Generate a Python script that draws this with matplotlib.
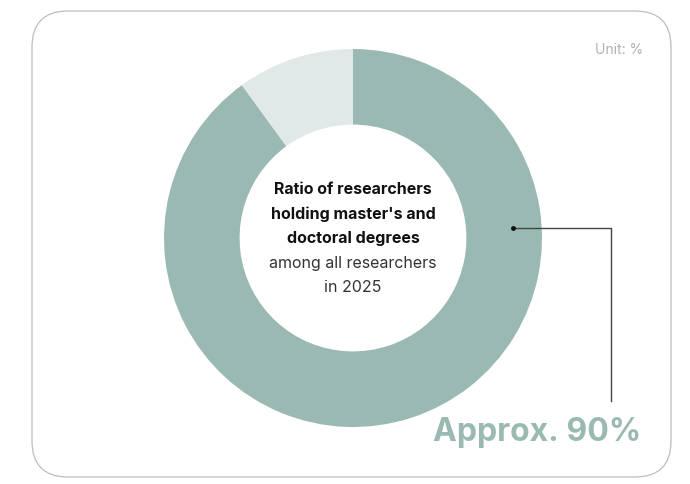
import matplotlib.pyplot as plt
from matplotlib.patches import FancyBboxPatch

# data
shares = [90, 10]
share_labels = ["Master's and doctoral degrees", "Others"]
colors = ['#9bb9b3', '#e0e9e8']
title_lines = ["Ratio of researchers", "holding master's and", "doctoral degrees"]
sub_lines = ["among all researchers", "in 2025"]
callout = "Approx. 90%"
unit = "Unit: %"

W, H = 690, 485
fig = plt.figure(figsize=(W / 100, H / 100), dpi=100)
ax = fig.add_axes([0, 0, 1, 1])

# donut, center/radius in pixel coords (y up)
cx, cy, r = 353, 485 - 239, 189
ax.pie(shares, colors=colors, startangle=90, counterclock=False,
       center=(cx, cy), radius=r,
       wedgeprops=dict(width=r * 0.4, linewidth=0))

ax.set_xlim(0, W)
ax.set_ylim(0, H)
ax.set_aspect('auto')
ax.axis('off')

# card border
card = FancyBboxPatch((32, 7), 639, 466, boxstyle="round,pad=0,rounding_size=36",
                      facecolor='none', edgecolor='#bdbdbd', linewidth=0.9)
ax.add_patch(card)

# centre text
y0 = 485 - 190
for i, t in enumerate(title_lines):
    ax.text(cx, y0 - i * 24.5, t, ha='center', va='center', fontsize=11.5,
            fontweight='bold', family='Inter', color='#111111')
for i, t in enumerate(sub_lines):
    ax.text(cx, y0 - (i + 3) * 24.5, t, ha='center', va='center', fontsize=11.5,
            family='Inter', color='#333333')

ax.text(643, 485 - 50, unit, ha='right', va='center', fontsize=10,
        family='Inter', color='#b0b0b0')

# leader line
ax.plot([513, 611, 611], [485 - 229, 485 - 229, 485 - 402], color='#444444', lw=1.0)
ax.plot(513, 485 - 229, 'o', color='#111111', ms=2.5)

ax.text(641, 485 - 433, callout, ha='right', va='center', fontsize=23,
        fontweight='bold', family='Inter', color='#9bb9b3')

fig.savefig('out.png', dpi=100)
